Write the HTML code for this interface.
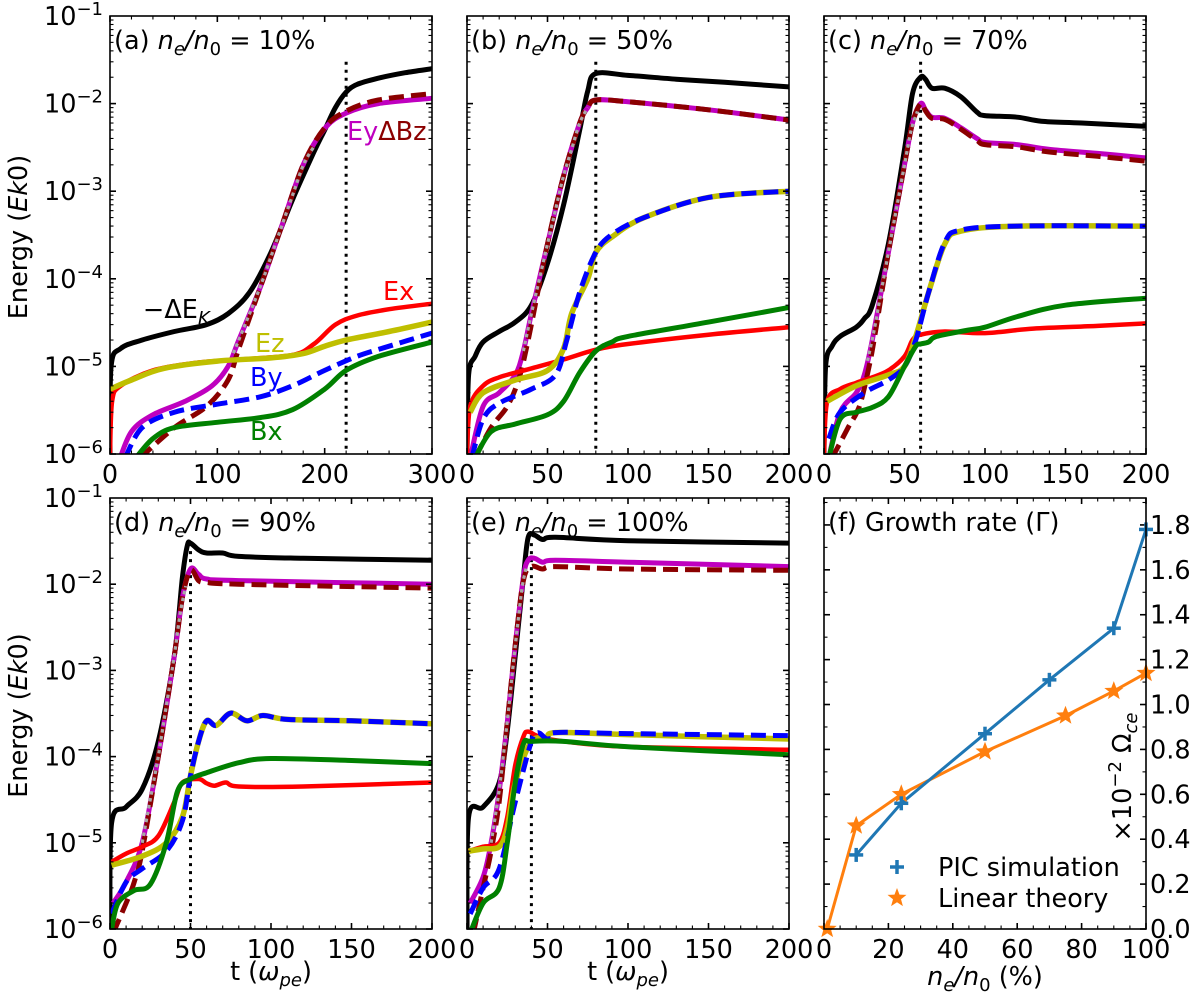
<!DOCTYPE html>
<html><head><meta charset="utf-8"><style>
html,body{margin:0;padding:0;background:#fff}
svg{display:block;font-family:"DejaVu Sans","Liberation Sans",sans-serif}
</style></head><body>
<svg id="fig" width="1200" height="1000" viewBox="0 0 1200 1000" xmlns="http://www.w3.org/2000/svg"></svg>
<script>
// ---------- data: [t, energy] ----------
const a_black=[[0,1e-6],[1,1e-5],[10,1.6e-5],[30,2e-5],[60,2.5e-5],[90,3e-5],[110,4e-5],[130,7e-5],[150,2e-4],[170,8e-4],[190,2.8e-3],[200,5e-3],[210,9e-3],[220,1.35e-2],[230,1.65e-2],[250,1.95e-2],[275,2.25e-2],[300,2.5e-2]];
const a_mag=[[8,8e-7],[20,1.8e-6],[40,2.8e-6],[70,4e-6],[95,6e-6],[110,1e-5],[120,2e-5],[140,8e-5],[160,4e-4],[180,2e-3],[200,5.2e-3],[220,7.8e-3],[250,1e-2],[300,1.15e-2]];
const a_dbz=[[28,9e-7],[60,2e-6],[90,3.5e-6],[110,7e-6],[120,1.6e-5],[140,8e-5],[160,4e-4],[180,2e-3],[200,5.3e-3],[220,8.2e-3],[250,1.1e-2],[300,1.3e-2]];
const a_red=[[0,1e-6],[2,4e-6],[10,6e-6],[40,9e-6],[80,1.1e-5],[120,1.2e-5],[170,1.35e-5],[190,1.8e-5],[210,3e-5],[230,3.8e-5],[260,4.5e-5],[300,5.2e-5]];
const a_yel=[[0,5.5e-6],[20,7e-6],[50,9.5e-6],[100,1.15e-5],[150,1.25e-5],[180,1.4e-5],[200,1.7e-5],[220,2e-5],[260,2.5e-5],[300,3.2e-5]];
const a_blue=[[14,9e-7],[30,2e-6],[60,3e-6],[100,3.7e-6],[140,4.5e-6],[170,6e-6],[200,9e-6],[230,1.3e-5],[260,1.7e-5],[300,2.4e-5]];
const a_green=[[24,9e-7],[40,1.5e-6],[60,2e-6],[100,2.3e-6],[140,2.6e-6],[170,3.2e-6],[200,5.5e-6],[220,9e-6],[250,1.3e-5],[300,1.9e-5]];

const b_black=[[0,1e-6],[1,8e-6],[5,1.3e-5],[10,1.9e-5],[20,2.5e-5],[30,3.2e-5],[40,5e-5],[50,1.5e-4],[60,7e-4],[70,5e-3],[75,1.4e-2],[80,2.2e-2],[100,2.1e-2],[130,1.9e-2],[160,1.75e-2],[200,1.55e-2]];
const b_mag=[[2,9e-7],[10,3.5e-6],[20,5e-6],[30,8e-6],[35,1.5e-5],[40,4e-5],[50,2.5e-4],[60,1.5e-3],[70,6e-3],[75,9e-3],[80,1.1e-2],[100,1.05e-2],[150,8.5e-3],[200,6.5e-3]];
const b_dbz=[[5,9e-7],[15,2e-6],[25,3.5e-6],[32,7e-6],[38,2e-5],[50,2.5e-4],[60,1.5e-3],[70,6e-3],[75,9e-3],[80,1.1e-2],[100,1.05e-2],[150,8.5e-3],[200,6.5e-3]];
const b_red=[[0,1e-6],[2,3.5e-6],[10,6e-6],[20,7.5e-6],[40,9.5e-6],[60,1.2e-5],[80,1.55e-5],[100,1.8e-5],[150,2.3e-5],[200,2.8e-5]];
const b_yel=[[2,3e-6],[10,5e-6],[30,7e-6],[50,9e-6],[60,1.6e-5],[65,4e-5],[75,1e-4],[80,2e-4],[90,3e-4],[110,5e-4],[150,8.5e-4],[200,1e-3]];
const b_blue=[[3,9e-7],[10,2.5e-6],[20,3.8e-6],[40,5.5e-6],[55,8e-6],[62,2e-5],[70,7e-5],[80,2e-4],[90,3.2e-4],[110,5e-4],[150,8.5e-4],[200,1e-3]];
const b_green=[[5,9e-7],[15,1.8e-6],[30,2.2e-6],[50,2.8e-6],[60,4e-6],[70,8.5e-6],[80,1.5e-5],[90,1.9e-5],[100,2.2e-5],[150,3.2e-5],[200,4.7e-5]];

const c_black=[[0,1e-6],[1,1e-5],[5,1.7e-5],[10,2.2e-5],[20,2.8e-5],[25,3.5e-5],[30,5e-5],[40,2.5e-4],[50,3e-3],[55,1.3e-2],[60,2e-2],[63,1.9e-2],[67,1.5e-2],[75,1.5e-2],[85,1.2e-2],[95,8e-3],[100,7.3e-3],[120,7e-3],[135,6.3e-3],[160,6e-3],[200,5.5e-3]];
const c_mag=[[3,9e-7],[10,3e-6],[20,5e-6],[25,8e-6],[30,2e-5],[40,2e-4],[50,2e-3],[55,6e-3],[60,1e-2],[63,8.5e-3],[67,7e-3],[75,6.8e-3],[85,5.3e-3],[95,4e-3],[100,3.6e-3],[120,3.4e-3],[140,3e-3],[170,2.7e-3],[200,2.4e-3]];
const c_dbz=[[5,9e-7],[15,2e-6],[22,3.5e-6],[28,1e-5],[32,2.5e-5],[40,2e-4],[50,2e-3],[55,6e-3],[60,1e-2],[63,8.3e-3],[67,6.8e-3],[75,6.6e-3],[85,5.1e-3],[95,3.8e-3],[100,3.4e-3],[120,3.2e-3],[140,2.8e-3],[170,2.5e-3],[200,2.2e-3]];
const c_red=[[0,1e-6],[2,4e-6],[10,5.5e-6],[20,6.5e-6],[30,7.5e-6],[40,9e-6],[50,1.3e-5],[55,2e-5],[60,2.3e-5],[75,2.5e-5],[100,2.4e-5],[130,2.7e-5],[170,2.9e-5],[200,3.1e-5]];
const c_yel=[[2,4e-6],[20,6e-6],[40,8e-6],[50,1e-5],[57,2.2e-5],[65,7e-5],[75,2.5e-4],[85,3.5e-4],[120,4e-4],[200,4e-4]];
const c_blue=[[3,1.5e-6],[10,3e-6],[25,5e-6],[40,7e-6],[50,1e-5],[57,2e-5],[65,7e-5],[75,2.6e-4],[85,3.6e-4],[120,4e-4],[200,4e-4]];
const c_green=[[3,9e-7],[10,2.5e-6],[20,3e-6],[30,3.4e-6],[40,4.5e-6],[50,1e-5],[57,1.7e-5],[60,1.8e-5],[65,1.9e-5],[70,2.2e-5],[90,2.6e-5],[100,2.8e-5],[120,3.7e-5],[150,5e-5],[200,6e-5]];

const d_black=[[0,1e-6],[1,1.7e-5],[10,2.6e-5],[20,4.2e-5],[30,1.5e-4],[40,1.5e-3],[45,1.2e-2],[48,2.8e-2],[50,3e-2],[55,2.5e-2],[60,2.3e-2],[70,2.3e-2],[80,2.1e-2],[120,2e-2],[200,1.9e-2]];
const d_mag=[[2,2e-6],[10,3.5e-6],[20,1e-5],[30,1e-4],[40,1.5e-3],[45,7e-3],[50,1.5e-2],[55,1.3e-2],[60,1.15e-2],[80,1.1e-2],[200,1e-2]];
const d_dbz=[[2,9e-7],[10,2e-6],[15,3.5e-6],[20,8e-6],[30,1e-4],[40,1.5e-3],[45,7e-3],[50,1.45e-2],[55,1.1e-2],[60,1.05e-2],[80,1e-2],[200,9e-3]];
const d_red=[[1,6e-6],[10,7.5e-6],[20,9e-6],[30,1.2e-5],[40,3e-5],[45,5e-5],[55,5.5e-5],[60,4.9e-5],[65,4.6e-5],[72,5e-5],[80,4.5e-5],[120,4.5e-5],[200,5e-5]];
const d_yel=[[1,5.5e-6],[20,7e-6],[35,1e-5],[45,2e-5],[50,6e-5],[55,1.5e-4],[60,2.6e-4],[66,2.3e-4],[75,3.2e-4],[85,2.6e-4],[95,3e-4],[110,2.7e-4],[150,2.6e-4],[200,2.4e-4]];
const d_blue=[[1,1.5e-6],[10,3.5e-6],[20,5e-6],[35,8e-6],[45,1.8e-5],[50,6e-5],[55,1.5e-4],[60,2.6e-4],[66,2.3e-4],[75,3.2e-4],[85,2.6e-4],[95,3e-4],[110,2.7e-4],[150,2.6e-4],[200,2.4e-4]];
const d_green=[[1,1e-6],[5,2e-6],[15,2.8e-6],[25,3.3e-6],[35,1e-5],[42,4e-5],[50,5.5e-5],[60,6.5e-5],[80,8.5e-5],[100,9.5e-5],[150,9e-5],[200,8.3e-5]];

const e_black=[[0,1e-6],[1,2e-5],[10,2.6e-5],[20,5e-5],[25,2e-4],[30,1.5e-3],[35,1.2e-2],[38,3.5e-2],[42,3.7e-2],[47,3.3e-2],[55,3.5e-2],[100,3.2e-2],[200,3e-2]];
const e_mag=[[2,2e-6],[10,4e-6],[15,1e-5],[20,4e-5],[25,2.5e-4],[30,2e-3],[35,1.2e-2],[38,1.9e-2],[42,2e-2],[47,1.8e-2],[55,1.9e-2],[100,1.8e-2],[200,1.6e-2]];
const e_dbz=[[4,9e-7],[10,3e-6],[15,8e-6],[20,3e-5],[25,2.5e-4],[30,2e-3],[35,1.1e-2],[40,1.6e-2],[47,1.5e-2],[55,1.6e-2],[100,1.5e-2],[200,1.45e-2]];
const e_red=[[1,8e-6],[10,9e-6],[20,1e-5],[25,2e-5],[30,8e-5],[35,1.7e-4],[38,1.95e-4],[45,1.7e-4],[60,1.5e-4],[100,1.3e-4],[200,1.2e-4]];
const e_yel=[[1,8e-6],[10,8.5e-6],[20,9e-6],[25,1.5e-5],[30,5e-5],[40,1.5e-4],[50,1.6e-4],[55,1.9e-4],[100,1.8e-4],[200,1.6e-4]];
const e_blue=[[2,1.5e-6],[10,3e-6],[20,5e-6],[30,3e-5],[40,1.5e-4],[44,1.9e-4],[50,1.6e-4],[55,1.9e-4],[100,1.85e-4],[200,1.75e-4]];
const e_green=[[2,9e-7],[10,2e-6],[20,3e-6],[25,1e-5],[30,5e-5],[35,1.4e-4],[40,1.5e-4],[60,1.5e-4],[100,1.3e-4],[200,1.05e-4]];

// growth rate panel (f)
const f_pic_x=[10,24,50,70,90,100];
const f_pic_y=[0.33,0.56,0.87,1.11,1.34,1.78];
const f_lin_x=[1,10,24,50,75,90,100];
const f_lin_y=[0,0.46,0.60,0.79,0.95,1.06,1.14];
const f_yticks=[0,0.2,0.4,0.6,0.8,1.0,1.2,1.4,1.6,1.8];
const f_xticks=[0,20,40,60,80,100];
const logTicks=[-1,-2,-3,-4,-5,-6];

// ---------- drawing ----------
const NS='http://www.w3.org/2000/svg';
const svg=document.getElementById('fig');
const FS=25.5, SFS=18;
function el(tag,attrs,parent){const e=document.createElementNS(NS,tag);for(const k in attrs)e.setAttribute(k,attrs[k]);(parent||svg).appendChild(e);return e;}

const styles={
 black:{c:'#000000',w:5,d:''},
 mag:{c:'#bf00bf',w:5,d:''},
 dbz:{c:'#8b0000',w:5,d:'15 7'},
 red:{c:'#ff0000',w:4.5,d:''},
 yel:{c:'#bfbf00',w:5.5,d:''},
 blue:{c:'#0000ff',w:5,d:'15 7'},
 green:{c:'#008000',w:5,d:''}
};

const panels=[
 {id:'a',L:110,R:432,T:16,B:454,xmax:300,major:100,minor:20,vline:220,fit:[115,190],lab:'10%',row:0,first:true,
  s:{black:a_black,mag:a_mag,dbz:a_dbz,red:a_red,yel:a_yel,blue:a_blue,green:a_green}},
 {id:'b',L:467,R:789,T:16,B:454,xmax:200,major:50,minor:10,vline:80,fit:[35,75],lab:'50%',row:0,
  s:{black:b_black,mag:b_mag,dbz:b_dbz,red:b_red,yel:b_yel,blue:b_blue,green:b_green}},
 {id:'c',L:824,R:1146,T:16,B:454,xmax:200,major:50,minor:10,vline:60,fit:[27,58],lab:'70%',row:0,
  s:{black:c_black,mag:c_mag,dbz:c_dbz,red:c_red,yel:c_yel,blue:c_blue,green:c_green}},
 {id:'d',L:110,R:432,T:498,B:929,xmax:200,major:50,minor:10,vline:50,fit:[20,47],lab:'90%',row:1,first:true,
  s:{black:d_black,mag:d_mag,dbz:d_dbz,red:d_red,yel:d_yel,blue:d_blue,green:d_green}},
 {id:'e',L:467,R:789,T:498,B:929,xmax:200,major:50,minor:10,vline:40,fit:[15,37],lab:'100%',row:1,
  s:{black:e_black,mag:e_mag,dbz:e_dbz,red:e_red,yel:e_yel,blue:e_blue,green:e_green}}
];

function smoothPath(pts){
 if(pts.length<2)return '';
 let d='M'+pts[0][0].toFixed(1)+','+pts[0][1].toFixed(1);
 for(let i=0;i<pts.length-1;i++){
  const p0=pts[Math.max(0,i-1)],p1=pts[i],p2=pts[i+1],p3=pts[Math.min(pts.length-1,i+2)];
  const k=1/6;
  const c1=[p1[0]+(p2[0]-p0[0])*k,p1[1]+(p2[1]-p0[1])*k];
  const c2=[p2[0]-(p3[0]-p1[0])*k,p2[1]-(p3[1]-p1[1])*k];
  d+='C'+c1[0].toFixed(1)+','+c1[1].toFixed(1)+' '+c2[0].toFixed(1)+','+c2[1].toFixed(1)+' '+p2[0].toFixed(1)+','+p2[1].toFixed(1);
 }
 return d;
}
function interpLog(arr,t){
 for(let i=0;i<arr.length-1;i++){if(t>=arr[i][0]&&t<=arr[i+1][0]){const f=(t-arr[i][0])/(arr[i+1][0]-arr[i][0]);return Math.pow(10,Math.log10(arr[i][1])*(1-f)+Math.log10(arr[i+1][1])*f);}}
 return arr[arr.length-1][1];
}
function txt(x,y,s,attrs,parent){const t=el('text',Object.assign({x:x,y:y,'font-size':FS,fill:'#000'},attrs||{}),parent);t.textContent=s;return t;}
function tspan(parent,s,attrs){const t=el('tspan',attrs||{},parent);t.textContent=s;return t;}

panels.forEach(p=>{
 const g=el('g',{});
 
 
 const xs=t=>p.L+(t/p.xmax)*(p.R-p.L);
 const ys=v=>p.T+(-1-Math.log10(v))/5*(p.B-p.T);
 const cp=el('clipPath',{id:'clip-'+p.id},g);
 el('rect',{x:p.L,y:p.T,width:p.R-p.L,height:p.B-p.T},cp);
 const cg=el('g',{'clip-path':'url(#clip-'+p.id+')'},g);
 const vl=el('line',{x1:xs(p.vline),x2:xs(p.vline),y1:ys(0.03),y2:p.B,stroke:'#000','stroke-width':3,'stroke-dasharray':'3 5'},cg);
 
 
 const order=['black','mag','dbz','red','yel','blue','green'];
 order.forEach(k=>{
  const st=styles[k];
  const pts=p.s[k].map(q=>[xs(q[0]),ys(q[1])]);
  const path=el('path',{d:smoothPath(pts),fill:'none',stroke:st.c,'stroke-width':st.w,'stroke-dasharray':st.d,'stroke-linejoin':'round'},cg);
  
  
  if(k==='dbz'){
   const fp=[];for(let t=p.fit[0];t<=p.fit[1]+0.01;t+=(p.fit[1]-p.fit[0])/8)fp.push([xs(t),ys(interpLog(p.s.mag,t))]);
   const f=el('path',{d:smoothPath(fp),fill:'none',stroke:'#a8a8a8','stroke-width':3.2,'stroke-dasharray':'3.5 3.5'},cg);
   
   
  }
 });
 el('rect',{x:p.L,y:p.T,width:p.R-p.L,height:p.B-p.T,fill:'none',stroke:'#000','stroke-width':1.6},g);
 for(let t=0;t<=p.xmax+1e-9;t+=p.minor){
  const maj=Math.abs(t/p.major-Math.round(t/p.major))<1e-9;const len=maj?6:3.5;const x=xs(t);
  el('line',{x1:x,x2:x,y1:p.B,y2:p.B-len,stroke:'#000','stroke-width':maj?1.6:1.1},g);
  el('line',{x1:x,x2:x,y1:p.T,y2:p.T+len,stroke:'#000','stroke-width':maj?1.6:1.1},g);
  if(maj){const lb=txt(x,p.B+29,String(t),{'text-anchor':'middle'},g);
   
   }
 }
 for(let e=-6;e<=-2;e++){for(let m=1;m<=9;m++){const v=m*Math.pow(10,e);const y=ys(v);const maj=m===1;const len=maj?6:3.5;
  el('line',{x1:p.L,x2:p.L+len,y1:y,y2:y,stroke:'#000','stroke-width':maj?1.6:1.1},g);
  el('line',{x1:p.R,x2:p.R-len,y1:y,y2:y,stroke:'#000','stroke-width':maj?1.6:1.1},g);}}
 if(p.first){
  logTicks.forEach(e=>{const y=ys(Math.pow(10,e));
   const lb=txt(103,y+9,'10',{'text-anchor':'end'},g);
   tspan(lb,'\u2212'+(-e),{dy:-10,'font-size':SFS});
   
   });
  const yl=txt(0,0,'Energy (',{'text-anchor':'middle',transform:'translate(27,'+((p.T+p.B)/2+2)+') rotate(-90)'},g);
  tspan(yl,'Ek',{'font-style':'italic'});tspan(yl,'0)');
  
  
 }
 if(p.row===1){
  const xl=txt((p.L+p.R)/2,980,'t (',{'text-anchor':'middle'},g);
  tspan(xl,'\u03c9',{'font-style':'italic'});tspan(xl,'pe',{'font-style':'italic','font-size':SFS,dy:6});tspan(xl,')',{dy:-6});
  
  
 }
 const tt=txt(p.L+4,p.T+33,'('+p.id+') ',{},g);
 tspan(tt,'n',{'font-style':'italic'});tspan(tt,'e',{'font-style':'italic','font-size':SFS,dy:6});
 tspan(tt,'/',{dy:-6,'font-style':'italic'});tspan(tt,'n',{'font-style':'italic'});tspan(tt,'0',{'font-size':SFS,dy:6});
 tspan(tt,' = '+p.lab,{dy:-6});
 
 
});

(function(){
 const g=el('g',{});
 
 
 const k=txt(143,318,'\u2212\u0394E',{},g);tspan(k,'K',{'font-style':'italic','font-size':SFS,dy:6});
 
 
 const ey=txt(347,140,'',{},g);tspan(ey,'Ey',{fill:'#bf00bf'});tspan(ey,'\u0394Bz',{fill:'#8b0000'});
 
 
 const l1=txt(383,300,'Ex',{fill:'#ff0000'},g);
 
 
 const l2=txt(255,352,'Ez',{fill:'#bfbf00'},g);
 
 
 const l3=txt(250,386,'By',{fill:'#0000ff'},g);
 
 
 const l4=txt(250,440,'Bx',{fill:'#008000'},g);
 
 
})();

(function(){
 const L=824,R=1146,T=498,B=929,ymax=1.92;
 const xs=v=>L+v/100*(R-L);
 const ys=v=>B-v/ymax*(B-T);
 const g=el('g',{});
 
 
 for(let v=0;v<=100.01;v+=5){const maj=Math.abs(v%20)<1e-6;const len=maj?6:3.5;
  el('line',{x1:xs(v),x2:xs(v),y1:B,y2:B-len,stroke:'#000','stroke-width':maj?1.6:1.1},g);
  el('line',{x1:xs(v),x2:xs(v),y1:T,y2:T+len,stroke:'#000','stroke-width':maj?1.6:1.1},g);}
 f_xticks.forEach(v=>{const lb=txt(xs(v),B+29,String(v),{'text-anchor':'middle'},g);
  
  });
 for(let i=0;i<=19;i++){const v=i*0.1;const maj=i%2===0;const len=maj?6:3.5;
  el('line',{x1:L,x2:L+len,y1:ys(v),y2:ys(v),stroke:'#000','stroke-width':maj?1.6:1.1},g);
  el('line',{x1:R,x2:R-len,y1:ys(v),y2:ys(v),stroke:'#000','stroke-width':maj?1.6:1.1},g);}
 f_yticks.forEach(v=>{const lb=txt(R+4,ys(v)+9,v.toFixed(1),{},g);
  
  });
 const lin=el('polyline',{points:f_lin_x.map((x,i)=>xs(x)+','+ys(f_lin_y[i])).join(' '),fill:'none',stroke:'#ff7f0e','stroke-width':3},g);
 
 
 const pic=el('polyline',{points:f_pic_x.map((x,i)=>xs(x)+','+ys(f_pic_y[i])).join(' '),fill:'none',stroke:'#1f77b4','stroke-width':3},g);
 
 
 function star(cx,cy,r,parent){const pts=[];for(let i=0;i<10;i++){const rr=i%2?r*0.42:r;const a=-Math.PI/2+i*Math.PI/5;pts.push((cx+rr*Math.cos(a)).toFixed(1)+','+(cy+rr*Math.sin(a)).toFixed(1));}
  return el('polygon',{points:pts.join(' '),fill:'#ff7f0e'},parent);}
 function plus(cx,cy,r,parent){const gg=el('g',{},parent);
  el('line',{x1:cx-r,x2:cx+r,y1:cy,y2:cy,stroke:'#1f77b4','stroke-width':3.5},gg);
  el('line',{x1:cx,x2:cx,y1:cy-r,y2:cy+r,stroke:'#1f77b4','stroke-width':3.5},gg);return gg;}
 f_lin_x.forEach((x,i)=>{const s=star(xs(x),ys(f_lin_y[i]),10,g);
  
  });
 f_pic_x.forEach((x,i)=>{const s=plus(xs(x),ys(f_pic_y[i]),7,g);
  
  });
 el('rect',{x:L,y:T,width:R-L,height:B-T,fill:'none',stroke:'#000','stroke-width':1.6},g);
 const tt=txt(L+4,T+33,'(f) Growth rate (\u0393)',{},g);
 
 
 const xl=txt((L+R)/2,985,'',{'text-anchor':'middle'},g);
 tspan(xl,'n',{'font-style':'italic'});tspan(xl,'e',{'font-style':'italic','font-size':SFS,dy:6});
 tspan(xl,'/',{dy:-6,'font-style':'italic'});tspan(xl,'n',{'font-style':'italic'});tspan(xl,'0',{'font-size':SFS,dy:6});tspan(xl,' (%)',{dy:-6});
 
 
 const yl=txt(0,0,'\u00d710',{'text-anchor':'middle',transform:'translate(1131,777) rotate(-90)'},g);
 tspan(yl,'\u22122',{'font-size':SFS,dy:-10});tspan(yl,' \u03a9',{dy:10});tspan(yl,'ce',{'font-style':'italic','font-size':SFS,dy:6});
 
 
 const lg=el('g',{},g);
 
 
 const p1=plus(897,867,7,lg);
 
 
 const t1=txt(938,876,'PIC simulation',{},lg);
 
 
 const s2=star(897,898,10,lg);
 
 
 const t2=txt(938,907,'Linear theory',{},lg);
 
 
})();
</script>
</body></html>
